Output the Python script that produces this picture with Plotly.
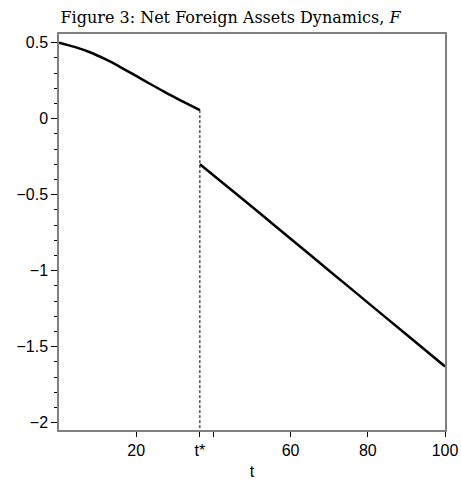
import plotly.graph_objects as go

# Data
t_star = 36.5
t_pre = [0, 4, 8, 12, 16, 20, 24, 28, 32, 36.5]
F_pre = [0.5, 0.472, 0.437, 0.391, 0.338, 0.281, 0.223, 0.167, 0.114, 0.056]
t_post = [36.5, 50, 60, 70, 80, 90, 100]
F_post = [-0.30, -0.58, -0.79, -1.00, -1.21, -1.42, -1.63]

x_tickvals = [20, t_star, 40, 60, 80, 100]
x_ticktext = ["20", "t*", "", "60", "80", "100"]
y_tickvals = [-2, -1.5, -1, -0.5, 0, 0.5]
y_ticktext = ["\u22122", "\u22121.5", "\u22121", "\u22120.5", "0", "0.5"]

x_range = [0, 100]
y_range = [-2.048, 0.557]

fig = go.Figure()
fig.add_trace(go.Scatter(x=[t_star, t_star], y=[F_pre[-1], y_range[0]], mode="lines",
                         line=dict(color="black", width=1, dash="3px,2px"), hoverinfo="skip"))
fig.add_trace(go.Scatter(x=t_pre, y=F_pre, mode="lines", line=dict(color="black", width=2.5, shape="spline")))
fig.add_trace(go.Scatter(x=t_post, y=F_post, mode="lines", line=dict(color="black", width=2.5, shape="spline")))

fig.update_layout(
    width=461, height=480,
    margin=dict(l=59, r=16, t=34, b=50),
    paper_bgcolor="white", plot_bgcolor="white",
    showlegend=False,
    font=dict(family="Liberation Sans, Arial, sans-serif", size=16, color="black"),
    title=dict(text="Figure 3: Net Foreign Assets Dynamics, <i>F</i>",
               font=dict(family="DejaVu Serif, serif", size=16, color="black"),
               x=0.5, xanchor="center", y=1 - 17 / 480, yanchor="middle"),
)
fig.update_xaxes(range=x_range, tickvals=x_tickvals, ticktext=x_ticktext,
                 ticks="outside", ticklen=5, tickcolor="black", tickwidth=1,
                 showline=True, linecolor="#7f7f7f", linewidth=1.5, mirror=True,
                 showgrid=False, zeroline=False, automargin=False,
                 title=dict(text="t", font=dict(size=16)))
fig.update_yaxes(range=y_range, tickvals=y_tickvals, ticktext=y_ticktext,
                 ticks="outside", ticklen=6, tickcolor="black", tickwidth=1,
                 minor=dict(dtick=0.1, tick0=0, ticks="outside", ticklen=3, tickcolor="black"),
                 showline=True, linecolor="#7f7f7f", linewidth=1.5, mirror=True,
                 showgrid=False, zeroline=False, automargin=False)

fig.write_html("out.html")
